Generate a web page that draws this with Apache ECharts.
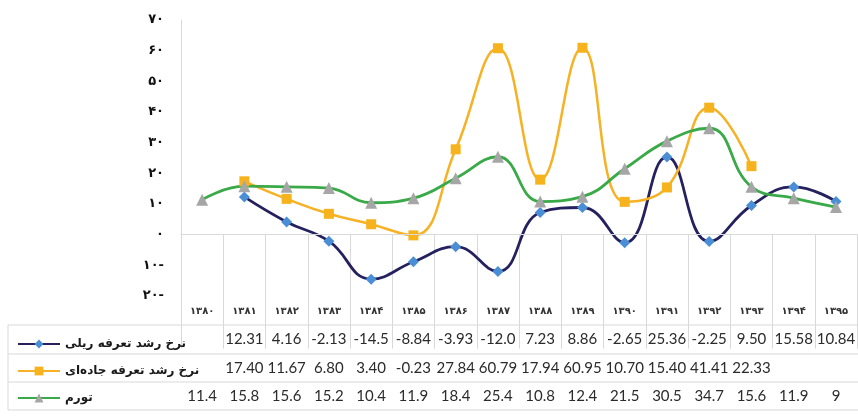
<!DOCTYPE html>
<html>
<head>
<meta charset="utf-8">
<script src="https://cdn.jsdelivr.net/npm/echarts@6/dist/echarts.min.js"></script>
<style>
  html, body { margin: 0; padding: 0; background: #fff; }
  #chart { width: 858px; height: 418px; }
</style>
</head>
<body>
<div id="chart"></div>
<script>
// Years (Persian calendar)
const years = ['۱۳۸۰','۱۳۸۱','۱۳۸۲','۱۳۸۳','۱۳۸۴','۱۳۸۵','۱۳۸۶','۱۳۸۷','۱۳۸۸','۱۳۸۹','۱۳۹۰','۱۳۹۱','۱۳۹۲','۱۳۹۳','۱۳۹۴','۱۳۹۵'];

// Series names
const nameRail = 'نرخ رشد تعرفه ریلی';
const nameRoad = 'نرخ رشد تعرفه جاده‌ای';
const nameInfl = 'تورم';

// Values as printed in the data table ('' = no value)
const railValues = ['', '12.31', '4.16', '-2.13', '-14.5', '-8.84', '-3.93', '-12.0', '7.23', '8.86', '-2.65', '25.36', '-2.25', '9.50', '15.58', '10.84'];
const roadValues = ['', '17.40', '11.67', '6.80', '3.40', '-0.23', '27.84', '60.79', '17.94', '60.95', '10.70', '15.40', '41.41', '22.33', '', ''];
const inflValues = ['11.4', '15.8', '15.6', '15.2', '10.4', '11.9', '18.4', '25.4', '10.8', '12.4', '21.5', '30.5', '34.7', '15.6', '11.9', '9'];

// Y axis tick values
const yTicks = [-20, -10, 0, 10, 20, 30, 40, 50, 60, 70];

const toNum = a => a.map(v => v === '' ? null : parseFloat(v));
const faDigits = '۰۱۲۳۴۵۶۷۸۹';
const toFa = n => {
  const s = String(Math.abs(n)).replace(/[0-9]/g, d => faDigits[+d]);
  return n < 0 ? s + '-' : s;
};

const gridColor = '#d9d9d9';
const plotLeft = 181, plotTop = 20, axisY = 296, tableBottom = 410;

const chart = echarts.init(document.getElementById('chart'), null, { renderer: 'canvas' });

function tableAxis(data, offset) {
  return {
    type: 'category', data: data, gridIndex: 0, position: 'bottom', offset: offset,
    axisLine: { show: false }, axisTick: { show: false }, splitLine: { show: false },
    axisLabel: { interval: 0, margin: 6.5, color: '#2b2b2b', fontFamily: 'Lato', fontSize: 15 }
  };
}

const option = {
  backgroundColor: '#fff',
  animation: false,
  grid: { left: plotLeft, top: plotTop, width: 681, height: axisY - plotTop, containLabel: false },
  legend: {
    orient: 'vertical', left: 12, top: 333, itemGap: 15,
    itemWidth: 42, itemHeight: 11,
    textStyle: { fontFamily: 'DejaVu Sans', fontSize: 12, color: '#1a1a1a', fontWeight: 'bold' },
    data: [nameRail, nameRoad, nameInfl]
  },
  xAxis: [
    {
      type: 'category', data: years, boundaryGap: true,
      axisLine: { show: true, lineStyle: { color: gridColor } },
      axisTick: { show: true, length: tableBottom - axisY, lineStyle: { color: gridColor } },
      axisLabel: { interval: 0, margin: 10, color: '#333', fontFamily: 'DejaVu Sans', fontSize: 10, fontWeight: 'bold' },
      splitLine: { show: false }
    },
    tableAxis(railValues, 29),
    tableAxis(roadValues, 58),
    tableAxis(inflValues, 86)
  ],
  yAxis: {
    type: 'value', min: yTicks[0], max: yTicks[yTicks.length - 1], interval: 10,
    axisLine: { show: true, lineStyle: { color: gridColor } },
    axisTick: { show: false },
    splitLine: { show: false },
    axisLabel: {
      margin: 17, color: '#111', fontFamily: 'DejaVu Sans', fontSize: 13, fontWeight: 'bold',
      formatter: v => toFa(v)
    }
  },
  series: [
    {
      name: nameRail, type: 'line', data: toNum(railValues), smooth: 0.45,
      symbol: 'diamond', symbolSize: 11,
      lineStyle: { color: '#25215f', width: 2.8 },
      itemStyle: { color: '#4a8fd6', borderWidth: 0 },
      markLine: {
        silent: true, symbol: 'none', label: { show: false },
        lineStyle: { color: gridColor, width: 1, type: 'solid' },
        data: [{ yAxis: 0 }]
      }
    },
    {
      name: nameRoad, type: 'line', data: toNum(roadValues), smooth: 0.45,
      symbol: 'rect', symbolSize: 10,
      lineStyle: { color: '#f6b224', width: 2.5 },
      itemStyle: { color: '#f6b31d', borderWidth: 0 }
    },
    {
      name: nameInfl, type: 'line', data: toNum(inflValues), smooth: 0.45,
      symbol: 'triangle', symbolSize: 12,
      lineStyle: { color: '#3aa948', width: 2.8 },
      itemStyle: { color: '#a6a6a6', borderWidth: 0 }
    }
  ],
  graphic: [
    // table row separators
    { type: 'line', shape: { x1: 8, y1: 325, x2: 858, y2: 325 }, style: { stroke: gridColor, lineWidth: 1 } },
    { type: 'line', shape: { x1: 8, y1: 354, x2: 858, y2: 354 }, style: { stroke: gridColor, lineWidth: 1 } },
    { type: 'line', shape: { x1: 8, y1: 382, x2: 858, y2: 382 }, style: { stroke: gridColor, lineWidth: 1 } },
    { type: 'line', shape: { x1: 8, y1: tableBottom, x2: 858, y2: tableBottom }, style: { stroke: gridColor, lineWidth: 1 } },
    { type: 'line', shape: { x1: 8, y1: 325, x2: 8, y2: tableBottom }, style: { stroke: gridColor, lineWidth: 1 } }
  ]
};

chart.setOption(option);
</script>
</body>
</html>
